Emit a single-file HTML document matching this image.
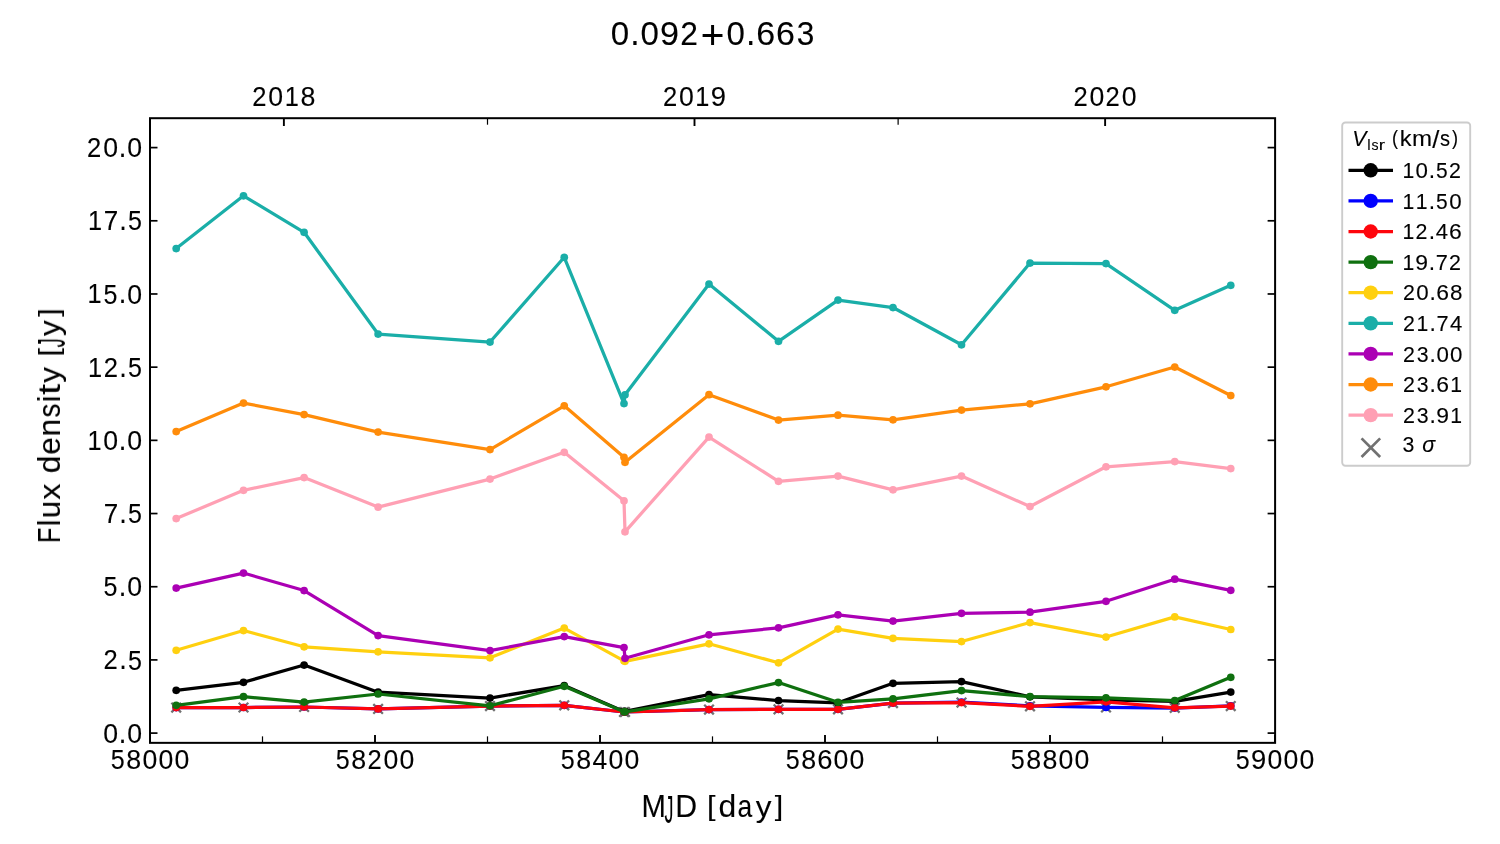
<!DOCTYPE html>
<html><head><meta charset="utf-8"><title>0.092+0.663</title>
<style>html,body{margin:0;padding:0;background:#fff;}body{width:1500px;height:844px;overflow:hidden;position:relative;font-family:"Liberation Sans",sans-serif;}</style>
</head><body>
<svg width="1500" height="844" viewBox="0 0 1500 844" style="position:absolute;left:0;top:0;display:block" font-family="'Liberation Sans', sans-serif" fill="#000">
<rect x="0" y="0" width="1500" height="844" fill="#fff"/>
<g>
<path d="M171.40 702.80L181.00 712.40M171.40 712.40L181.00 702.80" stroke="#717171" stroke-width="2.3" fill="none" stroke-linecap="butt"/>
<path d="M238.70 702.70L248.30 712.30M238.70 712.30L248.30 702.70" stroke="#717171" stroke-width="2.3" fill="none" stroke-linecap="butt"/>
<path d="M299.30 702.20L308.90 711.80M299.30 711.80L308.90 702.20" stroke="#717171" stroke-width="2.3" fill="none" stroke-linecap="butt"/>
<path d="M373.30 704.10L382.90 713.70M373.30 713.70L382.90 704.10" stroke="#717171" stroke-width="2.3" fill="none" stroke-linecap="butt"/>
<path d="M485.20 701.25L494.80 710.85M485.20 710.85L494.80 701.25" stroke="#717171" stroke-width="2.3" fill="none" stroke-linecap="butt"/>
<path d="M559.45 700.50L569.05 710.10M559.45 710.10L569.05 700.50" stroke="#717171" stroke-width="2.3" fill="none" stroke-linecap="butt"/>
<path d="M619.20 707.20L628.80 716.80M619.20 716.80L628.80 707.20" stroke="#717171" stroke-width="2.3" fill="none" stroke-linecap="butt"/>
<path d="M620.20 707.20L629.80 716.80M620.20 716.80L629.80 707.20" stroke="#717171" stroke-width="2.3" fill="none" stroke-linecap="butt"/>
<path d="M704.20 704.75L713.80 714.35M704.20 714.35L713.80 704.75" stroke="#717171" stroke-width="2.3" fill="none" stroke-linecap="butt"/>
<path d="M773.70 704.50L783.30 714.10M773.70 714.10L783.30 704.50" stroke="#717171" stroke-width="2.3" fill="none" stroke-linecap="butt"/>
<path d="M833.20 704.50L842.80 714.10M833.20 714.10L842.80 704.50" stroke="#717171" stroke-width="2.3" fill="none" stroke-linecap="butt"/>
<path d="M888.20 698.25L897.80 707.85M888.20 707.85L897.80 698.25" stroke="#717171" stroke-width="2.3" fill="none" stroke-linecap="butt"/>
<path d="M956.70 697.75L966.30 707.35M956.70 707.35L966.30 697.75" stroke="#717171" stroke-width="2.3" fill="none" stroke-linecap="butt"/>
<path d="M1025.20 701.50L1034.80 711.10M1025.20 711.10L1034.80 701.50" stroke="#717171" stroke-width="2.3" fill="none" stroke-linecap="butt"/>
<path d="M1101.20 702.60L1110.80 712.20M1101.20 712.20L1110.80 702.60" stroke="#717171" stroke-width="2.3" fill="none" stroke-linecap="butt"/>
<path d="M1169.95 703.00L1179.55 712.60M1169.95 712.60L1179.55 703.00" stroke="#717171" stroke-width="2.3" fill="none" stroke-linecap="butt"/>
<path d="M1225.95 701.25L1235.55 710.85M1225.95 710.85L1235.55 701.25" stroke="#717171" stroke-width="2.3" fill="none" stroke-linecap="butt"/>
</g>
<g stroke="#000000" fill="#000000"><polyline points="176.20,690.30 243.50,682.30 304.10,665.05 378.10,692.20 490.00,698.05 564.25,685.55 624.00,711.40 625.00,711.40 709.00,694.55 778.50,700.55 838.00,702.80 893.00,683.30 961.50,681.55 1030.00,696.80 1106.00,699.80 1174.75,701.30 1230.75,692.10" fill="none" stroke-width="3.25" stroke-linejoin="round" stroke-linecap="butt"/>
<circle cx="176.20" cy="690.30" r="3.85" stroke="none"/><circle cx="243.50" cy="682.30" r="3.85" stroke="none"/><circle cx="304.10" cy="665.05" r="3.85" stroke="none"/><circle cx="378.10" cy="692.20" r="3.85" stroke="none"/><circle cx="490.00" cy="698.05" r="3.85" stroke="none"/><circle cx="564.25" cy="685.55" r="3.85" stroke="none"/><circle cx="624.00" cy="711.40" r="3.85" stroke="none"/><circle cx="625.00" cy="711.40" r="3.85" stroke="none"/><circle cx="709.00" cy="694.55" r="3.85" stroke="none"/><circle cx="778.50" cy="700.55" r="3.85" stroke="none"/><circle cx="838.00" cy="702.80" r="3.85" stroke="none"/><circle cx="893.00" cy="683.30" r="3.85" stroke="none"/><circle cx="961.50" cy="681.55" r="3.85" stroke="none"/><circle cx="1030.00" cy="696.80" r="3.85" stroke="none"/><circle cx="1106.00" cy="699.80" r="3.85" stroke="none"/><circle cx="1174.75" cy="701.30" r="3.85" stroke="none"/><circle cx="1230.75" cy="692.10" r="3.85" stroke="none"/></g>
<g stroke="#0000ff" fill="#0000ff"><polyline points="176.20,707.60 243.50,707.50 304.10,707.00 378.10,708.90 490.00,706.05 564.25,705.30 624.00,712.00 625.00,712.00 709.00,709.55 778.50,709.30 838.00,709.30 893.00,703.05 961.50,702.20 1030.00,705.80 1106.00,707.40 1174.75,708.05 1230.75,705.80" fill="none" stroke-width="3.25" stroke-linejoin="round" stroke-linecap="butt"/>
<circle cx="176.20" cy="707.60" r="3.85" stroke="none"/><circle cx="243.50" cy="707.50" r="3.85" stroke="none"/><circle cx="304.10" cy="707.00" r="3.85" stroke="none"/><circle cx="378.10" cy="708.90" r="3.85" stroke="none"/><circle cx="490.00" cy="706.05" r="3.85" stroke="none"/><circle cx="564.25" cy="705.30" r="3.85" stroke="none"/><circle cx="624.00" cy="712.00" r="3.85" stroke="none"/><circle cx="625.00" cy="712.00" r="3.85" stroke="none"/><circle cx="709.00" cy="709.55" r="3.85" stroke="none"/><circle cx="778.50" cy="709.30" r="3.85" stroke="none"/><circle cx="838.00" cy="709.30" r="3.85" stroke="none"/><circle cx="893.00" cy="703.05" r="3.85" stroke="none"/><circle cx="961.50" cy="702.20" r="3.85" stroke="none"/><circle cx="1030.00" cy="705.80" r="3.85" stroke="none"/><circle cx="1106.00" cy="707.40" r="3.85" stroke="none"/><circle cx="1174.75" cy="708.05" r="3.85" stroke="none"/><circle cx="1230.75" cy="705.80" r="3.85" stroke="none"/></g>
<g stroke="#fe050c" fill="#fe050c"><polyline points="176.20,707.60 243.50,707.50 304.10,707.00 378.10,708.90 490.00,706.05 564.25,705.30 624.00,712.00 625.00,712.00 709.00,709.55 778.50,709.30 838.00,709.30 893.00,703.05 961.50,702.55 1030.00,706.30 1106.00,701.80 1174.75,707.80 1230.75,706.05" fill="none" stroke-width="3.25" stroke-linejoin="round" stroke-linecap="butt"/>
<circle cx="176.20" cy="707.60" r="3.85" stroke="none"/><circle cx="243.50" cy="707.50" r="3.85" stroke="none"/><circle cx="304.10" cy="707.00" r="3.85" stroke="none"/><circle cx="378.10" cy="708.90" r="3.85" stroke="none"/><circle cx="490.00" cy="706.05" r="3.85" stroke="none"/><circle cx="564.25" cy="705.30" r="3.85" stroke="none"/><circle cx="624.00" cy="712.00" r="3.85" stroke="none"/><circle cx="625.00" cy="712.00" r="3.85" stroke="none"/><circle cx="709.00" cy="709.55" r="3.85" stroke="none"/><circle cx="778.50" cy="709.30" r="3.85" stroke="none"/><circle cx="838.00" cy="709.30" r="3.85" stroke="none"/><circle cx="893.00" cy="703.05" r="3.85" stroke="none"/><circle cx="961.50" cy="702.55" r="3.85" stroke="none"/><circle cx="1030.00" cy="706.30" r="3.85" stroke="none"/><circle cx="1106.00" cy="701.80" r="3.85" stroke="none"/><circle cx="1174.75" cy="707.80" r="3.85" stroke="none"/><circle cx="1230.75" cy="706.05" r="3.85" stroke="none"/></g>
<g stroke="#0f700f" fill="#0f700f"><polyline points="176.20,705.30 243.50,696.70 304.10,702.10 378.10,694.00 490.00,705.80 564.25,686.30 624.00,711.80 625.00,711.80 709.00,698.80 778.50,682.55 838.00,702.30 893.00,698.80 961.50,690.55 1030.00,696.55 1106.00,697.80 1174.75,700.60 1230.75,677.30" fill="none" stroke-width="3.25" stroke-linejoin="round" stroke-linecap="butt"/>
<circle cx="176.20" cy="705.30" r="3.85" stroke="none"/><circle cx="243.50" cy="696.70" r="3.85" stroke="none"/><circle cx="304.10" cy="702.10" r="3.85" stroke="none"/><circle cx="378.10" cy="694.00" r="3.85" stroke="none"/><circle cx="490.00" cy="705.80" r="3.85" stroke="none"/><circle cx="564.25" cy="686.30" r="3.85" stroke="none"/><circle cx="624.00" cy="711.80" r="3.85" stroke="none"/><circle cx="625.00" cy="711.80" r="3.85" stroke="none"/><circle cx="709.00" cy="698.80" r="3.85" stroke="none"/><circle cx="778.50" cy="682.55" r="3.85" stroke="none"/><circle cx="838.00" cy="702.30" r="3.85" stroke="none"/><circle cx="893.00" cy="698.80" r="3.85" stroke="none"/><circle cx="961.50" cy="690.55" r="3.85" stroke="none"/><circle cx="1030.00" cy="696.55" r="3.85" stroke="none"/><circle cx="1106.00" cy="697.80" r="3.85" stroke="none"/><circle cx="1174.75" cy="700.60" r="3.85" stroke="none"/><circle cx="1230.75" cy="677.30" r="3.85" stroke="none"/></g>
<g stroke="#ffd00f" fill="#ffd00f"><polyline points="176.20,650.30 243.50,630.55 304.10,646.80 378.10,651.80 490.00,657.80 564.25,628.05 624.00,660.80 625.00,661.30 709.00,643.80 778.50,662.80 838.00,629.05 893.00,638.30 961.50,641.55 1030.00,622.55 1106.00,637.05 1174.75,616.90 1230.75,629.50" fill="none" stroke-width="3.25" stroke-linejoin="round" stroke-linecap="butt"/>
<circle cx="176.20" cy="650.30" r="3.85" stroke="none"/><circle cx="243.50" cy="630.55" r="3.85" stroke="none"/><circle cx="304.10" cy="646.80" r="3.85" stroke="none"/><circle cx="378.10" cy="651.80" r="3.85" stroke="none"/><circle cx="490.00" cy="657.80" r="3.85" stroke="none"/><circle cx="564.25" cy="628.05" r="3.85" stroke="none"/><circle cx="624.00" cy="660.80" r="3.85" stroke="none"/><circle cx="625.00" cy="661.30" r="3.85" stroke="none"/><circle cx="709.00" cy="643.80" r="3.85" stroke="none"/><circle cx="778.50" cy="662.80" r="3.85" stroke="none"/><circle cx="838.00" cy="629.05" r="3.85" stroke="none"/><circle cx="893.00" cy="638.30" r="3.85" stroke="none"/><circle cx="961.50" cy="641.55" r="3.85" stroke="none"/><circle cx="1030.00" cy="622.55" r="3.85" stroke="none"/><circle cx="1106.00" cy="637.05" r="3.85" stroke="none"/><circle cx="1174.75" cy="616.90" r="3.85" stroke="none"/><circle cx="1230.75" cy="629.50" r="3.85" stroke="none"/></g>
<g stroke="#1aaea8" fill="#1aaea8"><polyline points="176.20,248.55 243.50,195.80 304.10,232.30 378.10,334.05 490.00,342.05 564.25,257.30 624.00,403.55 625.00,394.80 709.00,284.05 778.50,341.30 838.00,300.05 893.00,307.55 961.50,344.80 1030.00,263.05 1106.00,263.55 1174.75,310.30 1230.75,285.30" fill="none" stroke-width="3.25" stroke-linejoin="round" stroke-linecap="butt"/>
<circle cx="176.20" cy="248.55" r="3.85" stroke="none"/><circle cx="243.50" cy="195.80" r="3.85" stroke="none"/><circle cx="304.10" cy="232.30" r="3.85" stroke="none"/><circle cx="378.10" cy="334.05" r="3.85" stroke="none"/><circle cx="490.00" cy="342.05" r="3.85" stroke="none"/><circle cx="564.25" cy="257.30" r="3.85" stroke="none"/><circle cx="624.00" cy="403.55" r="3.85" stroke="none"/><circle cx="625.00" cy="394.80" r="3.85" stroke="none"/><circle cx="709.00" cy="284.05" r="3.85" stroke="none"/><circle cx="778.50" cy="341.30" r="3.85" stroke="none"/><circle cx="838.00" cy="300.05" r="3.85" stroke="none"/><circle cx="893.00" cy="307.55" r="3.85" stroke="none"/><circle cx="961.50" cy="344.80" r="3.85" stroke="none"/><circle cx="1030.00" cy="263.05" r="3.85" stroke="none"/><circle cx="1106.00" cy="263.55" r="3.85" stroke="none"/><circle cx="1174.75" cy="310.30" r="3.85" stroke="none"/><circle cx="1230.75" cy="285.30" r="3.85" stroke="none"/></g>
<g stroke="#ab00b4" fill="#ab00b4"><polyline points="176.20,588.05 243.50,573.05 304.10,590.55 378.10,635.55 490.00,650.55 564.25,636.55 624.00,647.60 625.00,658.30 709.00,634.80 778.50,627.80 838.00,614.80 893.00,621.05 961.50,613.30 1030.00,612.20 1106.00,601.30 1174.75,579.20 1230.75,590.30" fill="none" stroke-width="3.25" stroke-linejoin="round" stroke-linecap="butt"/>
<circle cx="176.20" cy="588.05" r="3.85" stroke="none"/><circle cx="243.50" cy="573.05" r="3.85" stroke="none"/><circle cx="304.10" cy="590.55" r="3.85" stroke="none"/><circle cx="378.10" cy="635.55" r="3.85" stroke="none"/><circle cx="490.00" cy="650.55" r="3.85" stroke="none"/><circle cx="564.25" cy="636.55" r="3.85" stroke="none"/><circle cx="624.00" cy="647.60" r="3.85" stroke="none"/><circle cx="625.00" cy="658.30" r="3.85" stroke="none"/><circle cx="709.00" cy="634.80" r="3.85" stroke="none"/><circle cx="778.50" cy="627.80" r="3.85" stroke="none"/><circle cx="838.00" cy="614.80" r="3.85" stroke="none"/><circle cx="893.00" cy="621.05" r="3.85" stroke="none"/><circle cx="961.50" cy="613.30" r="3.85" stroke="none"/><circle cx="1030.00" cy="612.20" r="3.85" stroke="none"/><circle cx="1106.00" cy="601.30" r="3.85" stroke="none"/><circle cx="1174.75" cy="579.20" r="3.85" stroke="none"/><circle cx="1230.75" cy="590.30" r="3.85" stroke="none"/></g>
<g stroke="#ff8c0a" fill="#ff8c0a"><polyline points="176.20,431.55 243.50,403.05 304.10,414.55 378.10,432.05 490.00,449.55 564.25,405.80 624.00,457.30 625.00,462.30 709.00,394.70 778.50,420.05 838.00,415.20 893.00,419.80 961.50,410.05 1030.00,403.80 1106.00,386.80 1174.75,367.05 1230.75,395.55" fill="none" stroke-width="3.25" stroke-linejoin="round" stroke-linecap="butt"/>
<circle cx="176.20" cy="431.55" r="3.85" stroke="none"/><circle cx="243.50" cy="403.05" r="3.85" stroke="none"/><circle cx="304.10" cy="414.55" r="3.85" stroke="none"/><circle cx="378.10" cy="432.05" r="3.85" stroke="none"/><circle cx="490.00" cy="449.55" r="3.85" stroke="none"/><circle cx="564.25" cy="405.80" r="3.85" stroke="none"/><circle cx="624.00" cy="457.30" r="3.85" stroke="none"/><circle cx="625.00" cy="462.30" r="3.85" stroke="none"/><circle cx="709.00" cy="394.70" r="3.85" stroke="none"/><circle cx="778.50" cy="420.05" r="3.85" stroke="none"/><circle cx="838.00" cy="415.20" r="3.85" stroke="none"/><circle cx="893.00" cy="419.80" r="3.85" stroke="none"/><circle cx="961.50" cy="410.05" r="3.85" stroke="none"/><circle cx="1030.00" cy="403.80" r="3.85" stroke="none"/><circle cx="1106.00" cy="386.80" r="3.85" stroke="none"/><circle cx="1174.75" cy="367.05" r="3.85" stroke="none"/><circle cx="1230.75" cy="395.55" r="3.85" stroke="none"/></g>
<g stroke="#ffa0b4" fill="#ffa0b4"><polyline points="176.20,518.55 243.50,490.30 304.10,477.55 378.10,507.05 490.00,479.05 564.25,452.30 624.00,500.80 625.00,531.80 709.00,437.05 778.50,481.30 838.00,476.05 893.00,489.80 961.50,476.05 1030.00,506.55 1106.00,466.80 1174.75,461.55 1230.75,468.55" fill="none" stroke-width="3.25" stroke-linejoin="round" stroke-linecap="butt"/>
<circle cx="176.20" cy="518.55" r="3.85" stroke="none"/><circle cx="243.50" cy="490.30" r="3.85" stroke="none"/><circle cx="304.10" cy="477.55" r="3.85" stroke="none"/><circle cx="378.10" cy="507.05" r="3.85" stroke="none"/><circle cx="490.00" cy="479.05" r="3.85" stroke="none"/><circle cx="564.25" cy="452.30" r="3.85" stroke="none"/><circle cx="624.00" cy="500.80" r="3.85" stroke="none"/><circle cx="625.00" cy="531.80" r="3.85" stroke="none"/><circle cx="709.00" cy="437.05" r="3.85" stroke="none"/><circle cx="778.50" cy="481.30" r="3.85" stroke="none"/><circle cx="838.00" cy="476.05" r="3.85" stroke="none"/><circle cx="893.00" cy="489.80" r="3.85" stroke="none"/><circle cx="961.50" cy="476.05" r="3.85" stroke="none"/><circle cx="1030.00" cy="506.55" r="3.85" stroke="none"/><circle cx="1106.00" cy="466.80" r="3.85" stroke="none"/><circle cx="1174.75" cy="461.55" r="3.85" stroke="none"/><circle cx="1230.75" cy="468.55" r="3.85" stroke="none"/></g>
<line x1="150.00" y1="742.85" x2="150.00" y2="735.05" stroke="#000" stroke-width="1.9"/>
<line x1="262.50" y1="742.85" x2="262.50" y2="736.35" stroke="#000" stroke-width="1.2"/>
<line x1="375.00" y1="742.85" x2="375.00" y2="735.05" stroke="#000" stroke-width="1.9"/>
<line x1="487.50" y1="742.85" x2="487.50" y2="736.35" stroke="#000" stroke-width="1.2"/>
<line x1="600.00" y1="742.85" x2="600.00" y2="735.05" stroke="#000" stroke-width="1.9"/>
<line x1="712.50" y1="742.85" x2="712.50" y2="736.35" stroke="#000" stroke-width="1.2"/>
<line x1="825.00" y1="742.85" x2="825.00" y2="735.05" stroke="#000" stroke-width="1.9"/>
<line x1="937.50" y1="742.85" x2="937.50" y2="736.35" stroke="#000" stroke-width="1.2"/>
<line x1="1050.00" y1="742.85" x2="1050.00" y2="735.05" stroke="#000" stroke-width="1.9"/>
<line x1="1162.50" y1="742.85" x2="1162.50" y2="736.35" stroke="#000" stroke-width="1.2"/>
<line x1="1275.00" y1="742.85" x2="1275.00" y2="735.05" stroke="#000" stroke-width="1.9"/>
<line x1="283.88" y1="118.20" x2="283.88" y2="126.00" stroke="#000" stroke-width="1.9"/>
<line x1="694.50" y1="118.20" x2="694.50" y2="126.00" stroke="#000" stroke-width="1.9"/>
<line x1="1105.12" y1="118.20" x2="1105.12" y2="126.00" stroke="#000" stroke-width="1.9"/>
<line x1="487.50" y1="118.20" x2="487.50" y2="124.70" stroke="#000" stroke-width="1.2"/>
<line x1="898.12" y1="118.20" x2="898.12" y2="124.70" stroke="#000" stroke-width="1.2"/>
<line x1="150.00" y1="733.10" x2="157.50" y2="733.10" stroke="#000" stroke-width="1.7"/>
<line x1="1275.10" y1="733.10" x2="1267.60" y2="733.10" stroke="#000" stroke-width="1.7"/>
<line x1="150.00" y1="659.91" x2="157.50" y2="659.91" stroke="#000" stroke-width="1.7"/>
<line x1="1275.10" y1="659.91" x2="1267.60" y2="659.91" stroke="#000" stroke-width="1.7"/>
<line x1="150.00" y1="586.73" x2="157.50" y2="586.73" stroke="#000" stroke-width="1.7"/>
<line x1="1275.10" y1="586.73" x2="1267.60" y2="586.73" stroke="#000" stroke-width="1.7"/>
<line x1="150.00" y1="513.54" x2="157.50" y2="513.54" stroke="#000" stroke-width="1.7"/>
<line x1="1275.10" y1="513.54" x2="1267.60" y2="513.54" stroke="#000" stroke-width="1.7"/>
<line x1="150.00" y1="440.35" x2="157.50" y2="440.35" stroke="#000" stroke-width="1.7"/>
<line x1="1275.10" y1="440.35" x2="1267.60" y2="440.35" stroke="#000" stroke-width="1.7"/>
<line x1="150.00" y1="367.16" x2="157.50" y2="367.16" stroke="#000" stroke-width="1.7"/>
<line x1="1275.10" y1="367.16" x2="1267.60" y2="367.16" stroke="#000" stroke-width="1.7"/>
<line x1="150.00" y1="293.98" x2="157.50" y2="293.98" stroke="#000" stroke-width="1.7"/>
<line x1="1275.10" y1="293.98" x2="1267.60" y2="293.98" stroke="#000" stroke-width="1.7"/>
<line x1="150.00" y1="220.79" x2="157.50" y2="220.79" stroke="#000" stroke-width="1.7"/>
<line x1="1275.10" y1="220.79" x2="1267.60" y2="220.79" stroke="#000" stroke-width="1.7"/>
<line x1="150.00" y1="147.60" x2="157.50" y2="147.60" stroke="#000" stroke-width="1.7"/>
<line x1="1275.10" y1="147.60" x2="1267.60" y2="147.60" stroke="#000" stroke-width="1.7"/>
<rect x="150.0" y="118.2" width="1125.1" height="624.65" fill="none" stroke="#000" stroke-width="2"/>
<rect x="1342.2" y="122.5" width="128.0" height="343.2" rx="3.2" ry="3.2" fill="#fff" stroke="#cccccc" stroke-width="1.9"/>
<line x1="1348.5" y1="170.30" x2="1393" y2="170.30" stroke="#000000" stroke-width="3.25"/><circle cx="1370.7" cy="170.30" r="7.2" fill="#000000"/>
<line x1="1348.5" y1="200.90" x2="1393" y2="200.90" stroke="#0000ff" stroke-width="3.25"/><circle cx="1370.7" cy="200.90" r="7.2" fill="#0000ff"/>
<line x1="1348.5" y1="231.50" x2="1393" y2="231.50" stroke="#fe050c" stroke-width="3.25"/><circle cx="1370.7" cy="231.50" r="7.2" fill="#fe050c"/>
<line x1="1348.5" y1="262.10" x2="1393" y2="262.10" stroke="#0f700f" stroke-width="3.25"/><circle cx="1370.7" cy="262.10" r="7.2" fill="#0f700f"/>
<line x1="1348.5" y1="292.70" x2="1393" y2="292.70" stroke="#ffd00f" stroke-width="3.25"/><circle cx="1370.7" cy="292.70" r="7.2" fill="#ffd00f"/>
<line x1="1348.5" y1="323.30" x2="1393" y2="323.30" stroke="#1aaea8" stroke-width="3.25"/><circle cx="1370.7" cy="323.30" r="7.2" fill="#1aaea8"/>
<line x1="1348.5" y1="353.90" x2="1393" y2="353.90" stroke="#ab00b4" stroke-width="3.25"/><circle cx="1370.7" cy="353.90" r="7.2" fill="#ab00b4"/>
<line x1="1348.5" y1="384.50" x2="1393" y2="384.50" stroke="#ff8c0a" stroke-width="3.25"/><circle cx="1370.7" cy="384.50" r="7.2" fill="#ff8c0a"/>
<line x1="1348.5" y1="415.10" x2="1393" y2="415.10" stroke="#ffa0b4" stroke-width="3.25"/><circle cx="1370.7" cy="415.10" r="7.2" fill="#ffa0b4"/>
<path d="M1361.55 438.35L1380.15 456.95M1361.55 456.95L1380.15 438.35" stroke="#717171" stroke-width="2.7" fill="none" stroke-linecap="butt"/>
<g opacity="0.999" stroke="#000" stroke-width="0.12" stroke-linejoin="round"><g font-size="33.33"><text transform="translate(610.69,45.43) scale(0.9930,1.0053)">0</text><text transform="translate(630.14,45.30) scale(1.0131,1.0918)">.</text><text transform="translate(640.56,45.43) scale(0.9930,1.0053)">0</text><text transform="translate(660.10,45.43) scale(1.0202,1.0053)">9</text><text transform="translate(680.35,45.30) scale(0.9544,0.9995)">2</text><text transform="translate(700.85,48.81) scale(1.2148,1.2025)">+</text><text transform="translate(726.53,45.43) scale(0.9930,1.0053)">0</text><text transform="translate(745.97,45.30) scale(1.0131,1.0918)">.</text><text transform="translate(756.17,45.43) scale(1.0202,1.0053)">6</text><text transform="translate(776.09,45.43) scale(1.0202,1.0053)">6</text><text transform="translate(796.67,45.43) scale(0.9489,1.0053)">3</text></g><g font-size="26.84"><text transform="translate(252.29,106.00) scale(0.9544,0.9995)">2</text><text transform="translate(268.35,106.11) scale(0.9930,1.0053)">0</text><text transform="translate(284.68,106.00) scale(0.9444,0.9970)">1</text><text transform="translate(300.41,106.11) scale(0.9989,1.0053)">8</text></g><g font-size="26.84"><text transform="translate(662.95,106.00) scale(0.9544,0.9995)">2</text><text transform="translate(679.01,106.11) scale(0.9930,1.0053)">0</text><text transform="translate(695.34,106.00) scale(0.9444,0.9970)">1</text><text transform="translate(710.78,106.11) scale(1.0202,1.0053)">9</text></g><g font-size="26.84"><text transform="translate(1073.51,106.00) scale(0.9544,0.9995)">2</text><text transform="translate(1089.57,106.11) scale(0.9930,1.0053)">0</text><text transform="translate(1105.58,106.00) scale(0.9544,0.9995)">2</text><text transform="translate(1121.64,106.11) scale(0.9930,1.0053)">0</text></g><g font-size="26.84"><text transform="translate(110.72,769.21) scale(0.9340,1.0029)">5</text><text transform="translate(126.37,769.21) scale(0.9989,1.0053)">8</text><text transform="translate(142.41,769.21) scale(0.9930,1.0053)">0</text><text transform="translate(158.45,769.21) scale(0.9930,1.0053)">0</text><text transform="translate(174.48,769.21) scale(0.9930,1.0053)">0</text></g><g font-size="26.84"><text transform="translate(335.72,769.21) scale(0.9340,1.0029)">5</text><text transform="translate(351.37,769.21) scale(0.9989,1.0053)">8</text><text transform="translate(367.39,769.10) scale(0.9544,0.9995)">2</text><text transform="translate(383.45,769.21) scale(0.9930,1.0053)">0</text><text transform="translate(399.48,769.21) scale(0.9930,1.0053)">0</text></g><g font-size="26.84"><text transform="translate(560.72,769.21) scale(0.9340,1.0029)">5</text><text transform="translate(576.37,769.21) scale(0.9989,1.0053)">8</text><text transform="translate(592.51,769.10) scale(0.9855,0.9970)">4</text><text transform="translate(608.45,769.21) scale(0.9930,1.0053)">0</text><text transform="translate(624.48,769.21) scale(0.9930,1.0053)">0</text></g><g font-size="26.84"><text transform="translate(785.72,769.21) scale(0.9340,1.0029)">5</text><text transform="translate(801.37,769.21) scale(0.9989,1.0053)">8</text><text transform="translate(817.24,769.21) scale(1.0202,1.0053)">6</text><text transform="translate(833.45,769.21) scale(0.9930,1.0053)">0</text><text transform="translate(849.48,769.21) scale(0.9930,1.0053)">0</text></g><g font-size="26.84"><text transform="translate(1010.72,769.21) scale(0.9340,1.0029)">5</text><text transform="translate(1026.37,769.21) scale(0.9989,1.0053)">8</text><text transform="translate(1042.40,769.21) scale(0.9989,1.0053)">8</text><text transform="translate(1058.45,769.21) scale(0.9930,1.0053)">0</text><text transform="translate(1074.48,769.21) scale(0.9930,1.0053)">0</text></g><g font-size="26.84"><text transform="translate(1235.72,769.21) scale(0.9340,1.0029)">5</text><text transform="translate(1251.08,769.21) scale(1.0202,1.0053)">9</text><text transform="translate(1267.41,769.21) scale(0.9930,1.0053)">0</text><text transform="translate(1283.45,769.21) scale(0.9930,1.0053)">0</text><text transform="translate(1299.48,769.21) scale(0.9930,1.0053)">0</text></g><g font-size="26.84"><text transform="translate(103.14,742.71) scale(0.9930,1.0053)">0</text><text transform="translate(118.80,742.60) scale(1.0131,1.0918)">.</text><text transform="translate(127.19,742.71) scale(0.9930,1.0053)">0</text></g><g font-size="26.84"><text transform="translate(103.62,669.41) scale(0.9544,0.9995)">2</text><text transform="translate(119.30,669.41) scale(1.0131,1.0918)">.</text><text transform="translate(128.07,669.52) scale(0.9340,1.0029)">5</text></g><g font-size="26.84"><text transform="translate(103.52,596.33) scale(0.9340,1.0029)">5</text><text transform="translate(118.80,596.23) scale(1.0131,1.0918)">.</text><text transform="translate(127.19,596.33) scale(0.9930,1.0053)">0</text></g><g font-size="26.84"><text transform="translate(103.79,523.04) scale(0.9701,0.9970)">7</text><text transform="translate(119.30,523.04) scale(1.0131,1.0918)">.</text><text transform="translate(128.07,523.15) scale(0.9340,1.0029)">5</text></g><g font-size="26.84"><text transform="translate(87.44,449.85) scale(0.9444,0.9970)">1</text><text transform="translate(103.17,449.96) scale(0.9930,1.0053)">0</text><text transform="translate(118.83,449.85) scale(1.0131,1.0918)">.</text><text transform="translate(127.22,449.96) scale(0.9930,1.0053)">0</text></g><g font-size="26.84"><text transform="translate(87.94,376.66) scale(0.9444,0.9970)">1</text><text transform="translate(103.65,376.66) scale(0.9544,0.9995)">2</text><text transform="translate(119.33,376.66) scale(1.0131,1.0918)">.</text><text transform="translate(128.10,376.77) scale(0.9340,1.0029)">5</text></g><g font-size="26.84"><text transform="translate(87.44,303.48) scale(0.9444,0.9970)">1</text><text transform="translate(103.55,303.58) scale(0.9340,1.0029)">5</text><text transform="translate(118.83,303.48) scale(1.0131,1.0918)">.</text><text transform="translate(127.22,303.58) scale(0.9930,1.0053)">0</text></g><g font-size="26.84"><text transform="translate(87.94,230.29) scale(0.9444,0.9970)">1</text><text transform="translate(103.82,230.29) scale(0.9701,0.9970)">7</text><text transform="translate(119.33,230.29) scale(1.0131,1.0918)">.</text><text transform="translate(128.10,230.40) scale(0.9340,1.0029)">5</text></g><g font-size="26.84"><text transform="translate(87.11,157.10) scale(0.9544,0.9995)">2</text><text transform="translate(103.17,157.21) scale(0.9930,1.0053)">0</text><text transform="translate(118.83,157.10) scale(1.0131,1.0918)">.</text><text transform="translate(127.22,157.21) scale(0.9930,1.0053)">0</text></g><g font-size="31.20"><text transform="translate(641.48,817.30) scale(0.9390,0.9970)">M</text><text transform="translate(664.52,822.77) scale(0.5725,1.2520)">J</text><text transform="translate(675.32,817.30) scale(0.9707,0.9970)">D</text><text transform="translate(707.10,815.36) scale(0.9865,0.8987)">[</text><text transform="translate(718.53,817.43) scale(1.0224,0.9901)">d</text><text transform="translate(737.51,817.43) scale(0.8474,0.9861)">a</text><text transform="translate(755.63,817.13) scale(1.0101,0.9645)">y</text><text transform="translate(774.80,815.36) scale(0.9742,0.8987)">]</text></g><g font-size="31.20" transform="translate(60.00,543.78) rotate(-90)"><text transform="translate(0.77,0.00) scale(0.8090,0.9970)">F</text><text transform="translate(17.60,0.00) scale(0.9658,0.9843)">l</text><text transform="translate(25.43,0.13) scale(1.0108,0.9826)">u</text><text transform="translate(44.04,0.00) scale(1.0427,0.9746)">x</text><text transform="translate(70.47,0.13) scale(1.0224,0.9901)">d</text><text transform="translate(89.08,0.13) scale(1.0139,0.9861)">e</text><text transform="translate(107.33,0.00) scale(1.0223,0.9783)">n</text><text transform="translate(126.26,0.13) scale(0.8960,0.9861)">s</text><text transform="translate(141.43,0.00) scale(0.9658,0.9843)">i</text><text transform="translate(149.04,-0.24) scale(1.2520,1.0109)">t</text><text transform="translate(161.11,-0.17) scale(1.0101,0.9645)">y</text><text transform="translate(187.22,-1.94) scale(0.9865,0.8987)">[</text><text transform="translate(196.59,5.47) scale(0.5725,1.2520)">J</text><text transform="translate(207.84,-0.17) scale(1.0101,0.9645)">y</text><text transform="translate(227.00,-1.94) scale(0.9742,0.8987)">]</text></g><g font-size="22.47"><text transform="translate(1402.41,177.90) scale(0.9444,0.9970)">1</text><text transform="translate(1415.58,177.99) scale(0.9930,1.0053)">0</text><text transform="translate(1428.69,177.90) scale(1.0131,1.0918)">.</text><text transform="translate(1436.03,177.99) scale(0.9340,1.0029)">5</text><text transform="translate(1449.12,177.90) scale(0.9544,0.9995)">2</text></g><g font-size="22.47"><text transform="translate(1402.41,208.50) scale(0.9444,0.9970)">1</text><text transform="translate(1415.83,208.50) scale(0.9444,0.9970)">1</text><text transform="translate(1428.69,208.50) scale(1.0131,1.0918)">.</text><text transform="translate(1436.03,208.59) scale(0.9340,1.0029)">5</text><text transform="translate(1449.14,208.59) scale(0.9930,1.0053)">0</text></g><g font-size="22.47"><text transform="translate(1402.41,239.10) scale(0.9444,0.9970)">1</text><text transform="translate(1415.56,239.10) scale(0.9544,0.9995)">2</text><text transform="translate(1428.69,239.10) scale(1.0131,1.0918)">.</text><text transform="translate(1435.79,239.10) scale(0.9855,0.9970)">4</text><text transform="translate(1448.99,239.19) scale(1.0202,1.0053)">6</text></g><g font-size="22.47"><text transform="translate(1402.41,269.70) scale(0.9444,0.9970)">1</text><text transform="translate(1415.33,269.79) scale(1.0202,1.0053)">9</text><text transform="translate(1428.69,269.70) scale(1.0131,1.0918)">.</text><text transform="translate(1435.83,269.70) scale(0.9701,0.9970)">7</text><text transform="translate(1449.12,269.70) scale(0.9544,0.9995)">2</text></g><g font-size="22.47"><text transform="translate(1402.93,300.30) scale(0.9544,0.9995)">2</text><text transform="translate(1416.37,300.39) scale(0.9930,1.0053)">0</text><text transform="translate(1429.48,300.30) scale(1.0131,1.0918)">.</text><text transform="translate(1436.36,300.39) scale(1.0202,1.0053)">6</text><text transform="translate(1449.92,300.39) scale(0.9989,1.0053)">8</text></g><g font-size="22.47"><text transform="translate(1402.93,330.90) scale(0.9544,0.9995)">2</text><text transform="translate(1416.62,330.90) scale(0.9444,0.9970)">1</text><text transform="translate(1429.48,330.90) scale(1.0131,1.0918)">.</text><text transform="translate(1436.62,330.90) scale(0.9701,0.9970)">7</text><text transform="translate(1450.01,330.90) scale(0.9855,0.9970)">4</text></g><g font-size="22.47"><text transform="translate(1402.93,361.50) scale(0.9544,0.9995)">2</text><text transform="translate(1416.68,361.59) scale(0.9489,1.0053)">3</text><text transform="translate(1429.48,361.50) scale(1.0131,1.0918)">.</text><text transform="translate(1436.51,361.59) scale(0.9930,1.0053)">0</text><text transform="translate(1449.93,361.59) scale(0.9930,1.0053)">0</text></g><g font-size="22.47"><text transform="translate(1402.93,392.10) scale(0.9544,0.9995)">2</text><text transform="translate(1416.68,392.19) scale(0.9489,1.0053)">3</text><text transform="translate(1429.48,392.10) scale(1.0131,1.0918)">.</text><text transform="translate(1436.36,392.19) scale(1.0202,1.0053)">6</text><text transform="translate(1450.18,392.10) scale(0.9444,0.9970)">1</text></g><g font-size="22.47"><text transform="translate(1402.93,422.70) scale(0.9544,0.9995)">2</text><text transform="translate(1416.68,422.79) scale(0.9489,1.0053)">3</text><text transform="translate(1429.48,422.70) scale(1.0131,1.0918)">.</text><text transform="translate(1436.26,422.79) scale(1.0202,1.0053)">9</text><text transform="translate(1450.18,422.70) scale(0.9444,0.9970)">1</text></g><g font-size="22.47"><text transform="translate(1402.50,451.89) scale(0.9489,1.0053)">3</text></g><g font-size="22.47" font-style="italic"><text transform="translate(1422.21,451.90) scale(0.9507,0.9826)">σ</text></g><g font-size="22.47" font-style="italic"><text transform="translate(1352.13,146.30) scale(0.9497,0.9970)">V</text></g><g font-size="15.73"><text transform="translate(1367.27,149.50) scale(0.9658,0.9843)">l</text><text transform="translate(1371.43,149.57) scale(0.8960,0.9861)">s</text><text transform="translate(1378.75,149.50) scale(1.2019,0.9783)">r</text></g><g font-size="22.47"><text transform="translate(1391.97,144.86) scale(0.8048,0.8962)">(</text><text transform="translate(1399.84,146.30) scale(1.0529,0.9843)">k</text><text transform="translate(1412.03,146.30) scale(1.0731,0.9783)">m</text><text transform="translate(1432.31,148.02) scale(1.1420,1.0507)">/</text><text transform="translate(1440.03,146.39) scale(0.8960,0.9861)">s</text><text transform="translate(1451.97,144.86) scale(0.8048,0.8962)">)</text></g></g>
</svg>
</body></html>
